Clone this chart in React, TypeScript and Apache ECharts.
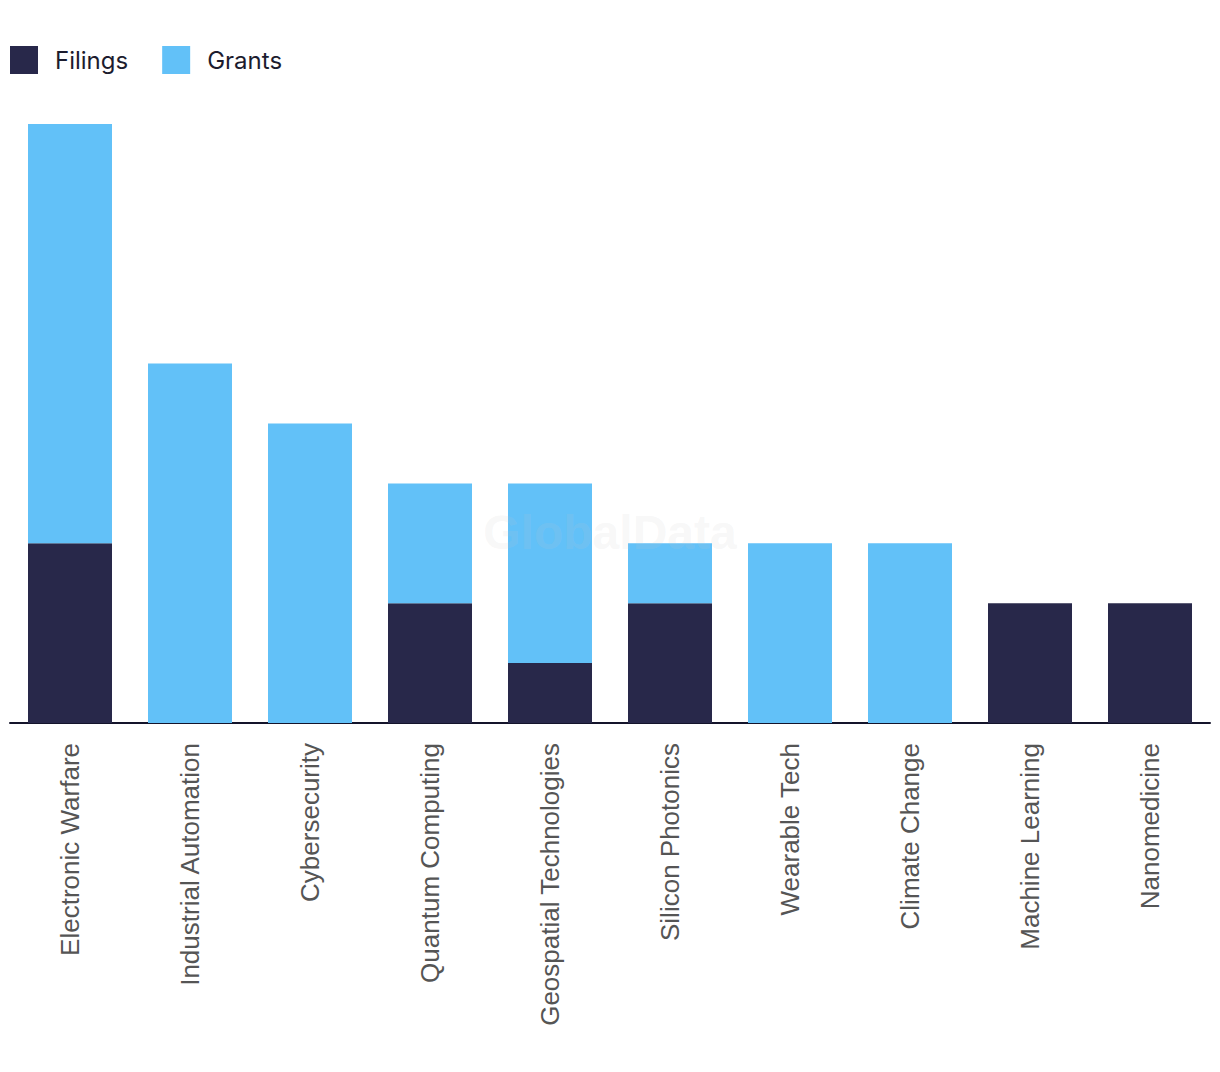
import React, { useEffect, useRef } from "react";
import * as echarts from "echarts";

const categories = [
  "Electronic Warfare",
  "Industrial Automation",
  "Cybersecurity",
  "Quantum Computing",
  "Geospatial Technologies",
  "Silicon Photonics",
  "Wearable Tech",
  "Climate Change",
  "Machine Learning",
  "Nanomedicine",
];
const filings = [3, 0, 0, 2, 1, 2, 0, 0, 2, 2];
const grants = [7, 6, 5, 2, 3, 1, 3, 3, 0, 0];

export default function App() {
  const ref = useRef<HTMLDivElement>(null);
  useEffect(() => {
    document.body.style.margin = "0";
    const chart = echarts.init(ref.current!, null, { renderer: "svg" });
    chart.setOption({
      animation: false,
      backgroundColor: "#ffffff",
      legend: {
        left: 10,
        top: 46,
        padding: 0,
        itemWidth: 28,
        itemHeight: 28,
        itemGap: 34,
        icon: "rect",
        textStyle: {
          fontFamily: "Inter, 'Noto Sans', sans-serif",
          fontSize: 24,
          color: "#1c1c2e",
          padding: [0, 0, 5, 12],
        },
        data: ["Filings", "Grants"],
      },
      grid: { left: 10, right: 10, top: 124, bottom: 349 },
      xAxis: {
        type: "category",
        data: categories,
        axisLine: { show: true, lineStyle: { color: "#14142b", width: 2 } },
        axisTick: { show: false },
        axisLabel: {
          rotate: 90,
          interval: 0,
          margin: 20,
          fontSize: 26,
          fontFamily: "'Liberation Sans', Arial, sans-serif",
          color: "#555555",
        },
      },
      yAxis: { type: "value", min: 0, max: 10, show: false, splitLine: { show: false } },
      series: [
        {
          name: "Filings",
          type: "bar",
          stack: "total",
          barWidth: 84,
          itemStyle: { color: "#28284a" },
          data: filings,
        },
        {
          name: "Grants",
          type: "bar",
          stack: "total",
          barWidth: 84,
          itemStyle: { color: "#62c1f8" },
          data: grants,
        },
      ],
      graphic: [
        {
          type: "text",
          left: "center",
          top: 508,
          z: 100,
          style: {
            text: "GlobalData",
            fontSize: 48,
            fontWeight: "bold",
            fontFamily: "'Liberation Sans', Arial, sans-serif",
            fill: "rgba(200,200,200,0.15)",
          },
        },
      ],
    });
    return () => chart.dispose();
  }, []);
  return <div ref={ref} style={{ width: 1220, height: 1072 }} />;
}
